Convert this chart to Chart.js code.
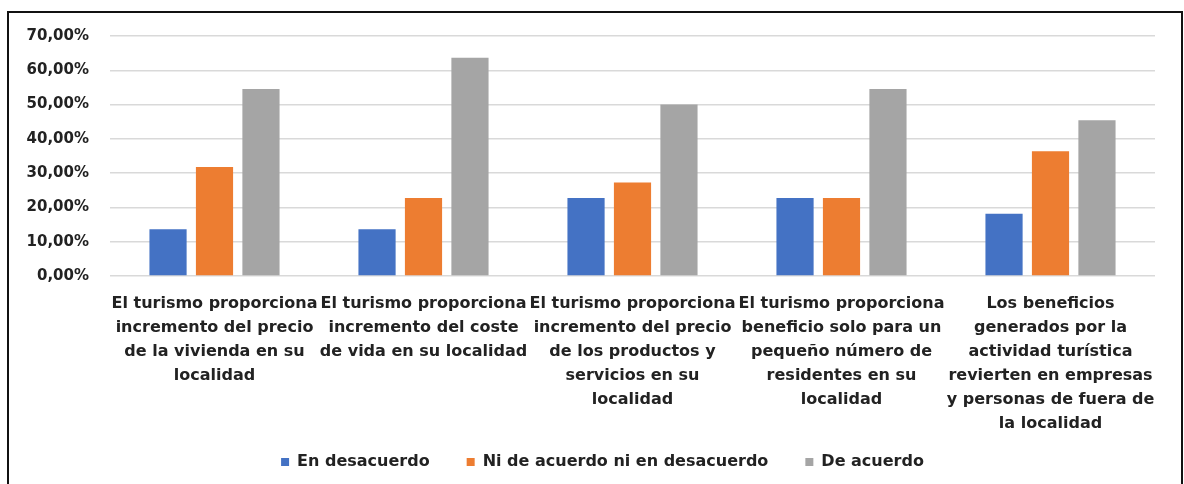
<!DOCTYPE html>
<html>
<head>
<meta charset="utf-8">
<script src="https://cdn.jsdelivr.net/npm/chart.js@4"></script>
<style>
  html, body { margin: 0; padding: 0; background: #fff; overflow: hidden; }
  #frame {
    position: absolute; left: 7px; top: 11px; width: 1172px; height: 480px;
    border: 2px solid #111; pointer-events: none;
  }
  canvas { position: absolute; left: 0; top: 0; }
</style>
</head>
<body>
<canvas id="chart" width="1184" height="484"></canvas>
<div id="frame"></div>
<script>
const categories = [
  ["El turismo proporciona", "incremento del precio", "de la vivienda en su", "localidad"],
  ["El turismo proporciona", "incremento del coste", "de vida en su localidad"],
  ["El turismo proporciona", "incremento del precio", "de los productos y", "servicios en su", "localidad"],
  ["El turismo proporciona", "beneficio solo para un", "pequeño número de", "residentes en su", "localidad"],
  ["Los beneficios", "generados por la", "actividad turística", "revierten en empresas", "y personas de fuera de", "la localidad"]
];
const enDesacuerdo = [13.64, 13.64, 22.73, 22.73, 18.18];
const niDeAcuerdo = [31.82, 22.73, 27.27, 22.73, 36.36];
const deAcuerdo = [54.55, 63.64, 50.00, 54.55, 45.45];
const seriesNames = ["En desacuerdo", "Ni de acuerdo ni en desacuerdo", "De acuerdo"];
const colors = ["#4472c4", "#ed7d31", "#a5a5a5"];

const font = "'DejaVu Sans', sans-serif";
const textColor = "#222";
const legendPad = 37;

function pct(v) {
  return Number(v).toFixed(2).replace(".", ",") + "%";
}

// the legend padding is also used vertically, so move the legend after layout
const legendShift = {
  id: "legendShift",
  afterLayout(chart) {
    const lg = chart.legend;
    if (!lg) return;
    lg.top = 462 - legendPad - 8;
    lg.bottom = lg.top + lg.height;
    lg.left += 25;
    lg.right += 25;
  },
};

const ctx = document.getElementById("chart").getContext("2d");
new Chart(ctx, {
  type: "bar",
  data: {
    labels: categories,
    datasets: [enDesacuerdo, niDeAcuerdo, deAcuerdo].map((data, i) => ({
      label: seriesNames[i],
      data,
      backgroundColor: colors[i],
      categoryPercentage: 0.667,
      barPercentage: 0.8,
    })),
  },
  options: {
    responsive: false,
    animation: false,
    devicePixelRatio: 1,
    layout: { padding: { left: 0, top: 36, right: 29, bottom: 0 } },
    plugins: {
      tooltip: { enabled: false },
      legend: {
        position: "bottom",
        maxHeight: 50,
        labels: {
          boxWidth: 8,
          boxHeight: 8,
          padding: legendPad,
          color: textColor,
          font: { family: font, size: 16, weight: "bold" },
        },
      },
    },
    scales: {
      x: {
        grid: { display: false },
        border: { display: false },
        afterFit: (scale) => { scale.height = 158; },
        ticks: {
          autoSkip: false,
          maxRotation: 0,
          padding: 8,
          color: textColor,
          font: { family: font, size: 16, weight: "bold", lineHeight: 1.5 },
        },
      },
      y: {
        min: 0,
        max: 70,
        border: { display: false },
        grid: { color: "#d9d9d9", lineWidth: 1.5, drawTicks: false },
        afterFit: (scale) => { scale.width = 110; },
        ticks: {
          stepSize: 10,
          padding: 21,
          color: textColor,
          font: { family: font, size: 15, weight: "bold" },
          callback: (v) => pct(v),
        },
      },
    },
  },
  plugins: [legendShift],
});
</script>
</body>
</html>
